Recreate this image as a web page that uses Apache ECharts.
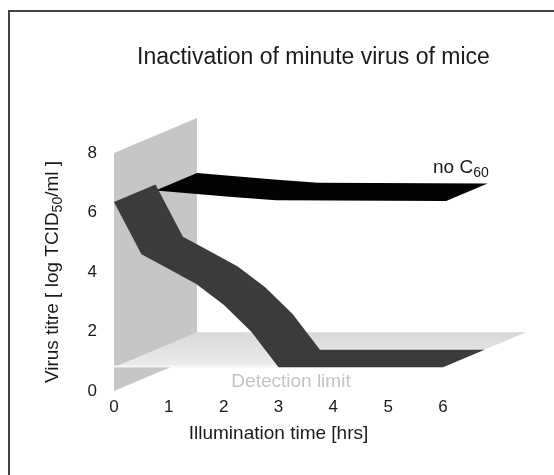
<!DOCTYPE html>
<html><head><meta charset="utf-8">
<script src="https://cdn.jsdelivr.net/npm/echarts@6/dist/echarts.min.js"></script>
<style>html,body{margin:0;padding:0;background:#fff}#c{width:554px;height:475px}</style>
</head><body><div id="c"></div>
<script>
// ---- data ----
const xTicks = [0, 1, 2, 3, 4, 5, 6];
const yTicks = [0, 2, 4, 6, 8];
const hoursC60 = [0, 0.5, 1, 1.5, 2, 2.5, 3, 4, 5, 6];
const titreC60 = [6.35, 4.6, 4.1, 3.6, 2.9, 2.0, 0.8, 0.8, 0.8, 0.8];
const hoursNoC60 = [0, 1.4, 2.2, 5.3];
const titreNoC60 = [6.15, 5.93, 5.82, 5.8];
const detectionLimit = 0.8;
const floorEnd = 6;
const wallTop = 8;

// ---- oblique projection (styling) ----
const DEPTH = [83, -35];
const FONT = "'Liberation Sans', Arial, Helvetica, sans-serif";
const TXT = '#1a1a1a';
function proj(api, t, v, d) {
  const p = api.coord([t, v]);
  return [p[0] + DEPTH[0] * d, p[1] + DEPTH[1] * d];
}
function ribbon(api, ts, vs, d0, d1) {
  const front = ts.map((t, i) => proj(api, t, vs[i], d0));
  const back = ts.map((t, i) => proj(api, t, vs[i], d1)).reverse();
  return front.concat(back);
}

const chart = echarts.init(document.getElementById('c'), null, {renderer: 'canvas'});
chart.setOption({
  animation: false,
  backgroundColor: '#fff',
  textStyle: {fontFamily: FONT},
  title: {
    text: 'Inactivation of minute virus of mice',
    left: 137, top: 46, padding: 0,
    textStyle: {fontSize: 23, fontWeight: 'normal', color: TXT, fontFamily: FONT, lineHeight: 23}
  },
  grid: {left: 114, top: 153, width: 329, height: 238},
  xAxis: {
    type: 'value', min: xTicks[0], max: xTicks[xTicks.length - 1], interval: 1,
    axisLine: {show: false}, axisTick: {show: false}, splitLine: {show: false},
    axisLabel: {fontSize: 17, color: TXT, margin: 8, fontFamily: FONT},
    name: 'Illumination time [hrs]', nameLocation: 'middle', nameGap: 33,
    nameTextStyle: {fontSize: 19, color: TXT, fontFamily: FONT}
  },
  yAxis: {
    type: 'value', min: yTicks[0], max: yTicks[yTicks.length - 1], interval: 2,
    axisLine: {show: false}, axisTick: {show: false}, splitLine: {show: false},
    axisLabel: {fontSize: 17, color: TXT, margin: 17, fontFamily: FONT},
    name: '{a|Virus titre [ log TCID}{s|50}{a|/ml ]}', nameLocation: 'middle', nameGap: 49,
    nameTextStyle: {
      color: TXT, fontFamily: FONT,
      rich: {
        a: {fontSize: 19, lineHeight: 25, color: TXT, fontFamily: FONT},
        s: {fontSize: 14, lineHeight: 14, verticalAlign: 'bottom', color: TXT, fontFamily: FONT}
      }
    }
  },
  graphic: [
    {type: 'polyline', shape: {points: [[9, 475], [9, 11], [554, 11]]},
     style: {stroke: '#444', lineWidth: 2, fill: null}, z: 10},
    {type: 'text', x: 291, y: 382, z: 10,
     style: {text: 'Detection limit', fill: '#c4c4c4', font: '19px ' + FONT, align: 'center', verticalAlign: 'middle'}},
    {type: 'text', x: 433, y: 168, z: 10,
     style: {text: '{a|no C}{s|60}', fill: TXT, align: 'left', verticalAlign: 'middle',
       rich: {
         a: {fontSize: 19, lineHeight: 25, fill: TXT, fontFamily: FONT},
         s: {fontSize: 14, lineHeight: 14, verticalAlign: 'bottom', fill: TXT, fontFamily: FONT}
       }}}
  ],
  series: [
    {
      type: 'custom', name: 'wall', coordinateSystem: 'cartesian2d', clip: false, z: 1,
      data: [[0, wallTop]], silent: true,
      renderItem: (params, api) => ({
        type: 'polygon',
        shape: {points: [proj(api, 0, 0, 0), proj(api, 0, wallTop, 0), proj(api, 0, wallTop, 1), proj(api, 0, 0, 1)]},
        style: {fill: '#c6c6c6'}
      })
    },
    {
      type: 'custom', name: 'Detection limit', coordinateSystem: 'cartesian2d', clip: false, z: 2,
      data: [[floorEnd, detectionLimit]], silent: true,
      renderItem: (params, api) => ({
        type: 'group',
        children: [
          {type: 'polygon',
           shape: {points: [proj(api, 0, detectionLimit, 0), proj(api, floorEnd, detectionLimit, 0),
                            proj(api, floorEnd, detectionLimit, 1), proj(api, 0, detectionLimit, 1)]},
           style: {fill: new echarts.graphic.LinearGradient(0, 0, 0, 1, [
             {offset: 0, color: '#d9d9d9'}, {offset: 1, color: '#ececec'}])}},
          {type: 'line',
           shape: (() => { const a = proj(api, 0, detectionLimit, 0), b = proj(api, floorEnd, detectionLimit, 0);
                           return {x1: a[0], y1: a[1] - 1, x2: b[0], y2: b[1] - 1}; })(),
           style: {stroke: '#f6f6f6', lineWidth: 2}}
        ]
      })
    },
    {
      type: 'custom', name: 'no C60', coordinateSystem: 'cartesian2d', clip: false, z: 3,
      data: hoursNoC60.map((h, i) => [h, titreNoC60[i]]), silent: true,
      renderItem: (params, api) => params.dataIndex !== 0 ? null : ({
        type: 'polygon',
        shape: {points: ribbon(api, hoursNoC60, titreNoC60, 0.5, 1)},
        style: {fill: '#030303'}
      })
    },
    {
      type: 'custom', name: 'C60', coordinateSystem: 'cartesian2d', clip: false, z: 4,
      data: hoursC60.map((h, i) => [h, titreC60[i]]), silent: true,
      renderItem: (params, api) => params.dataIndex !== 0 ? null : ({
        type: 'polygon',
        shape: {points: ribbon(api, hoursC60, titreC60, 0, 0.5)},
        style: {fill: '#3b3b3b'}
      })
    }
  ]
});
</script></body></html>
